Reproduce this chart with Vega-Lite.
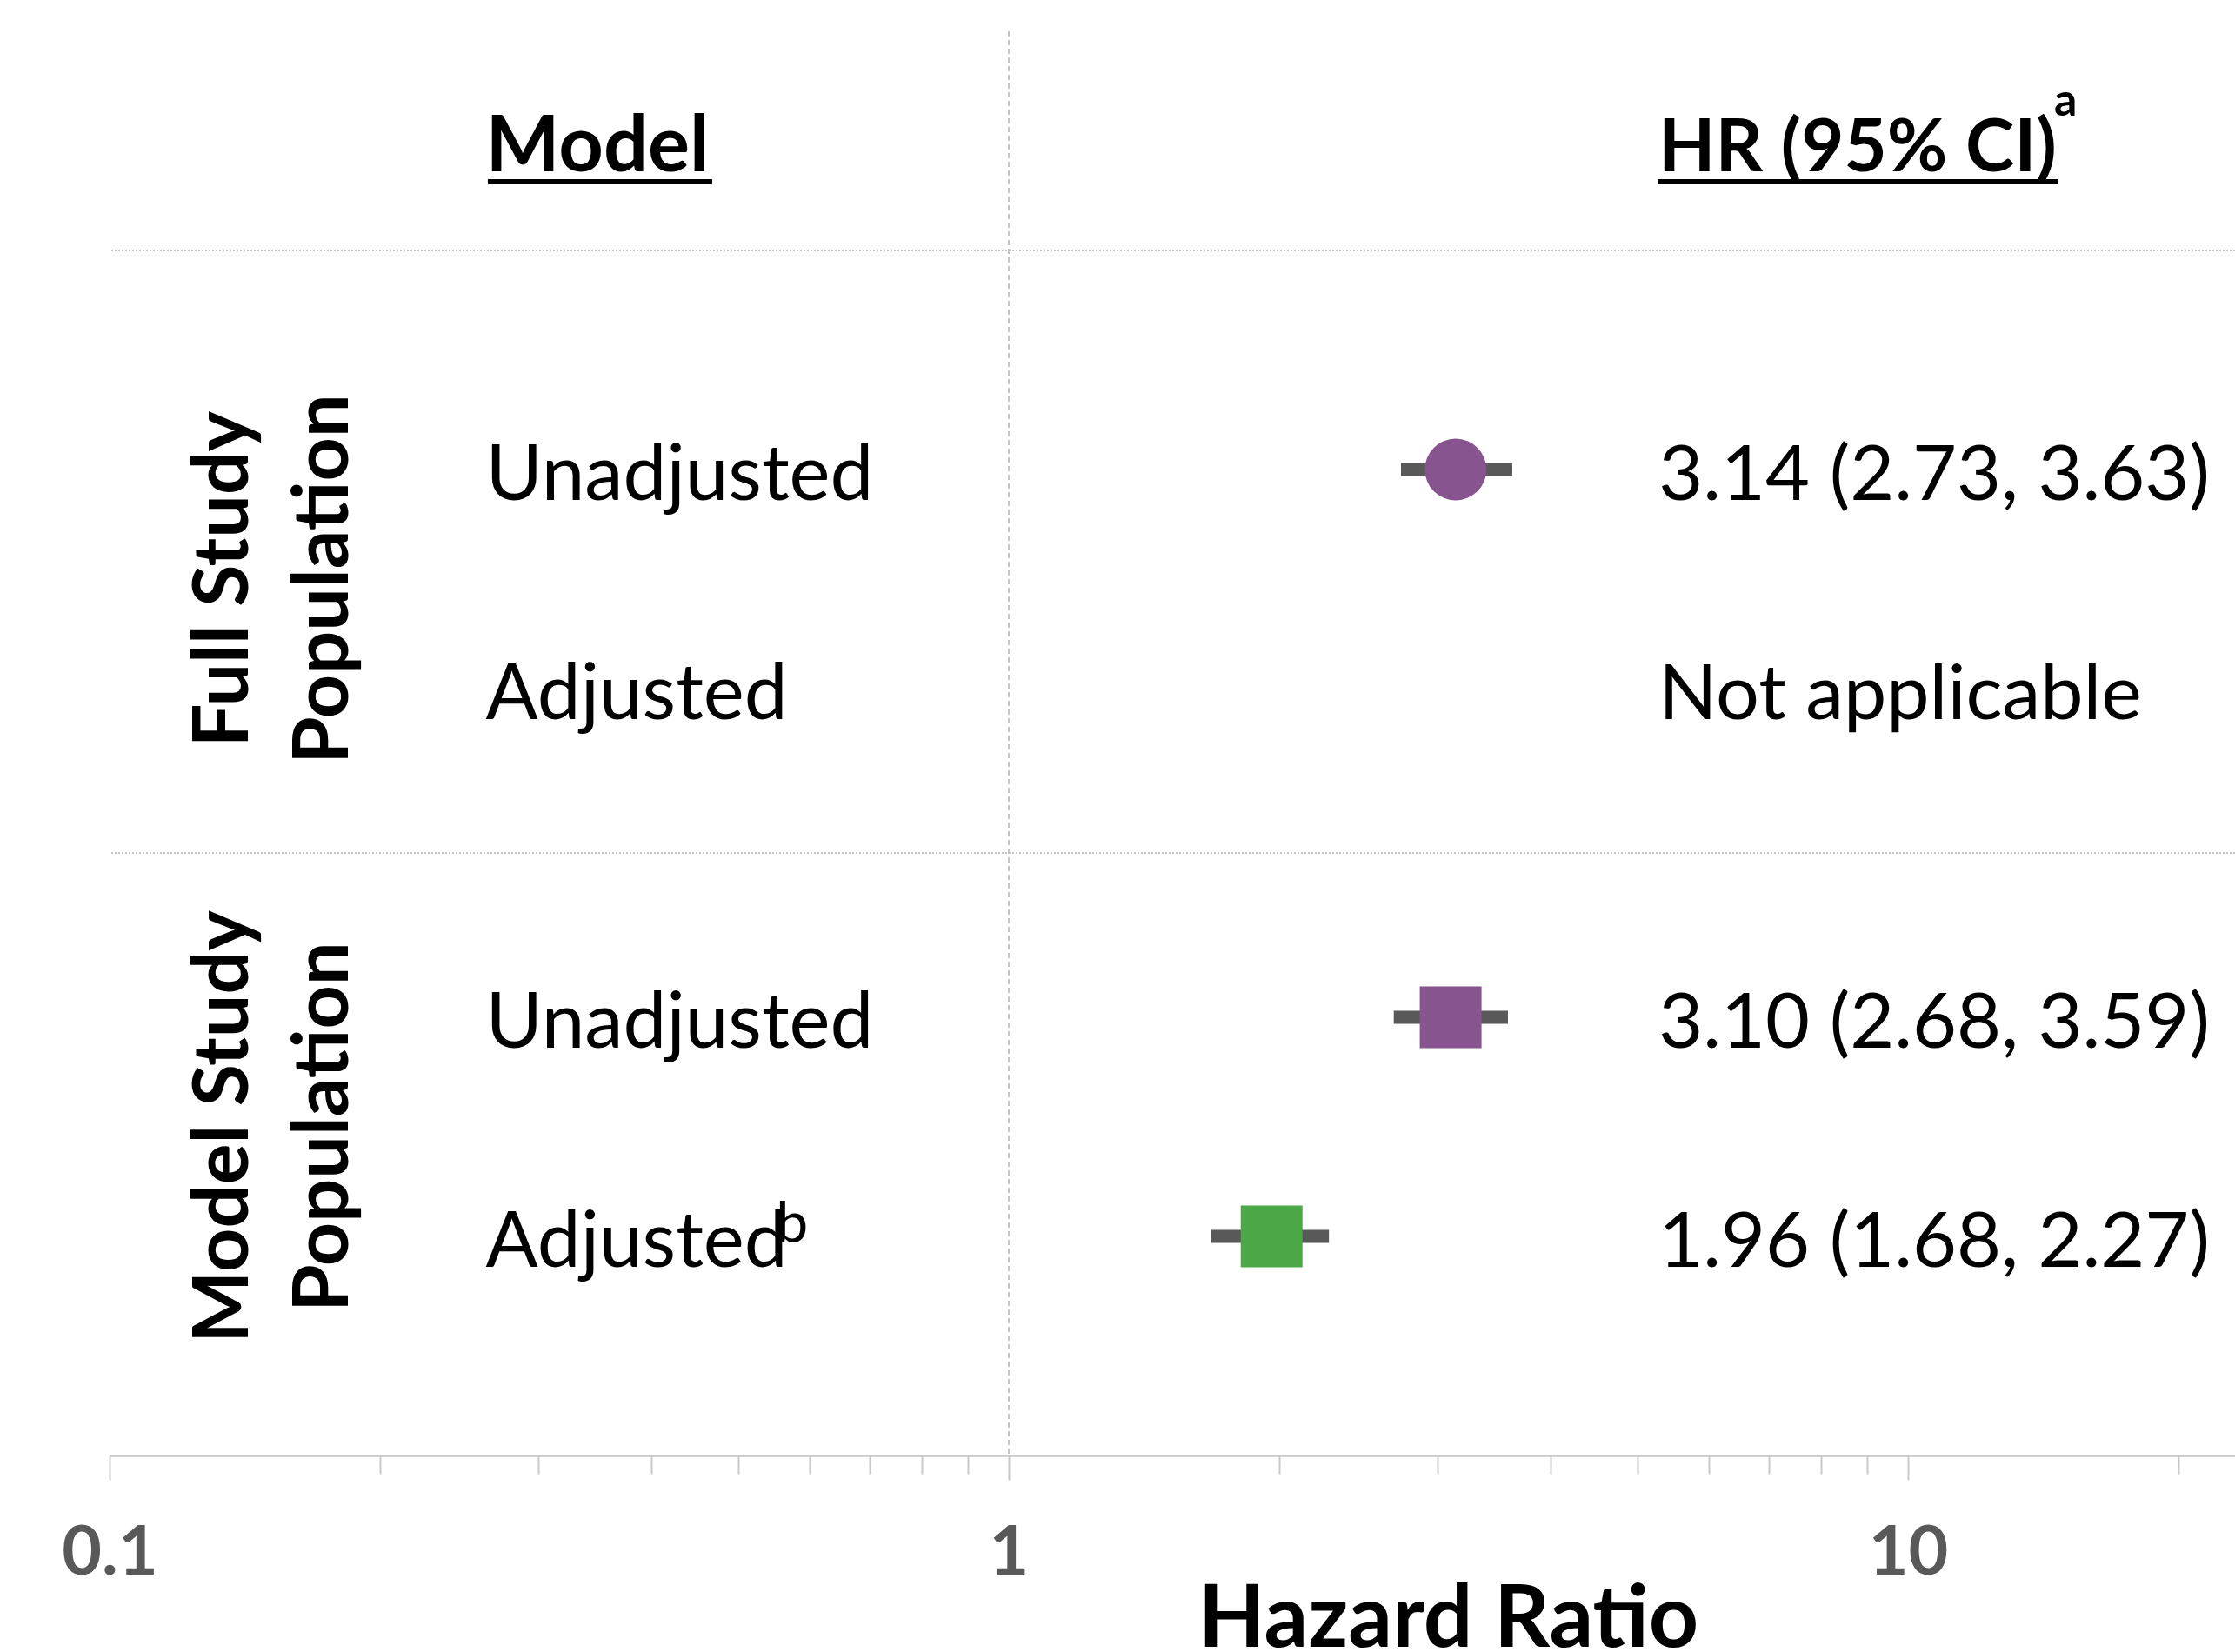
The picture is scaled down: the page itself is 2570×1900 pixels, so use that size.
{
  "$schema": "https://vega.github.io/schema/vega-lite/v6.json",
  "width": 2444,
  "height": 1638,
  "autosize": {"type": "none"},
  "padding": {"left": 126, "top": 36, "right": 0, "bottom": 226},
  "background": "white",
  "config": {"view": {"stroke": null}, "font": "Lato"},
  "datasets": {
    "rows": [
      {"pop": "Full Study Population", "model": "Unadjusted", "y": 4.5, "hr": 3.14, "lo": 2.73, "hi": 3.63, "label": "3.14 (2.73, 3.63)", "note": ""},
      {"pop": "Full Study Population", "model": "Adjusted", "y": 3.5, "hr": null, "lo": null, "hi": null, "label": "Not applicable", "note": ""},
      {"pop": "Model Study Population", "model": "Unadjusted", "y": 2, "hr": 3.10, "lo": 2.68, "hi": 3.59, "label": "3.10 (2.68, 3.59)", "note": ""},
      {"pop": "Model Study Population", "model": "Adjusted", "y": 1, "hr": 1.96, "lo": 1.68, "hi": 2.27, "label": "1.96 (1.68, 2.27)", "note": "b"}
    ],
    "groups": [
      {"g": "Full Study\nPopulation", "y": 4},
      {"g": "Model Study\nPopulation", "y": 1.5}
    ],
    "bounds": [{"b": 2.75}, {"b": 5.5}],
    "one": [{}]
  },
  "layer": [
    {
      "data": {"name": "one"},
      "mark": {"type": "rule", "color": "#b4b4b4", "strokeWidth": 1.5, "strokeDash": [6, 4]},
      "encoding": {
        "x": {
          "datum": 1,
          "type": "quantitative",
          "scale": {"type": "log", "domain": [0.1, 23.1], "nice": false},
          "title": "Hazard Ratio",
          "axis": {
            "values": [0.1, 0.2, 0.3, 0.4, 0.5, 0.6, 0.7, 0.8, 0.9, 1, 2, 3, 4, 5, 6, 7, 8, 9, 10, 20],
            "labelExpr": "datum.value == 0.1 ? '0.1' : datum.value == 1 ? '1' : datum.value == 10 ? '10' : ''",
            "tickSize": {"condition": {"test": "datum.value == 0.1 || datum.value == 1 || datum.value == 10", "value": 28}, "value": 21},
            "tickColor": "#c8c8c8",
            "tickWidth": 2,
            "domainColor": "#c8c8c8",
            "domainWidth": 2.5,
            "grid": false,
            "labelFont": "Lato",
            "labelFontWeight": "bold",
            "labelFontSize": 79,
            "labelColor": "#595959",
            "labelPadding": 46,
            "labelFlush": false,
            "labelOverlap": false,
            "titleFont": "Lato",
            "titleFontWeight": "bold",
            "titleFontSize": 100,
            "titleColor": "black",
            "titleX": 1539,
            "titleY": 219,
            "titleAlign": "center",
            "titleBaseline": "alphabetic",
            "titleAnchor": null
          }
        }
      }
    },
    {
      "data": {"name": "bounds"},
      "mark": {"type": "rule", "color": "#c4c4c4", "strokeWidth": 2, "strokeDash": [2, 2]},
      "encoding": {
        "y": {"field": "b", "type": "quantitative", "scale": {"domain": [0, 6.5], "nice": false, "zero": false}, "axis": null}
      }
    },
    {
      "data": {"name": "rows"},
      "transform": [{"filter": "isValid(datum.lo)"}],
      "mark": {"type": "rule", "color": "#595959", "strokeWidth": 15, "strokeCap": "butt"},
      "encoding": {
        "x": {"field": "lo", "type": "quantitative", "title": "Hazard Ratio", "scale": {"type": "log", "domain": [0.1, 23.1], "nice": false}},
        "x2": {"field": "hi"},
        "y": {"field": "y", "type": "quantitative", "scale": {"domain": [0, 6.5], "nice": false, "zero": false}, "axis": null}
      }
    },
    {
      "data": {"name": "rows"},
      "transform": [{"filter": "isValid(datum.hr)"}],
      "mark": {"type": "point", "filled": true, "opacity": 1, "size": 5041, "strokeWidth": 0},
      "encoding": {
        "x": {"field": "hr", "type": "quantitative", "title": "Hazard Ratio", "scale": {"type": "log", "domain": [0.1, 23.1], "nice": false}},
        "y": {"field": "y", "type": "quantitative", "scale": {"domain": [0, 6.5], "nice": false, "zero": false}, "axis": null},
        "shape": {"field": "pop", "type": "nominal", "scale": {"domain": ["Full Study Population", "Model Study Population"], "range": ["circle", "square"]}, "legend": null},
        "color": {"field": "model", "type": "nominal", "scale": {"domain": ["Unadjusted", "Adjusted"], "range": ["#87548f", "#4aa846"]}, "legend": null}
      }
    },
    {
      "data": {"name": "rows"},
      "mark": {"type": "text", "align": "left", "baseline": "alphabetic", "dy": 35, "fontSize": 89, "font": "Lato", "color": "black"},
      "encoding": {
        "x": {"datum": 0.262, "type": "quantitative", "scale": {"type": "log", "domain": [0.1, 23.1], "nice": false}},
        "y": {"field": "y", "type": "quantitative", "scale": {"domain": [0, 6.5], "nice": false, "zero": false}, "axis": null},
        "text": {"field": "model", "type": "nominal"}
      }
    },
    {
      "data": {"name": "rows"},
      "mark": {"type": "text", "align": "left", "baseline": "alphabetic", "dy": 7, "fontSize": 66, "font": "Lato", "color": "black"},
      "encoding": {
        "x": {"datum": 0.551, "type": "quantitative", "scale": {"type": "log", "domain": [0.1, 23.1], "nice": false}},
        "y": {"field": "y", "type": "quantitative", "scale": {"domain": [0, 6.5], "nice": false, "zero": false}, "axis": null},
        "text": {"field": "note", "type": "nominal"}
      }
    },
    {
      "data": {"name": "rows"},
      "mark": {"type": "text", "align": "left", "baseline": "alphabetic", "dy": 35, "fontSize": 88, "font": "Lato", "color": "black"},
      "encoding": {
        "x": {"datum": 5.28, "type": "quantitative", "scale": {"type": "log", "domain": [0.1, 23.1], "nice": false}},
        "y": {"field": "y", "type": "quantitative", "scale": {"domain": [0, 6.5], "nice": false, "zero": false}, "axis": null},
        "text": {"field": "label", "type": "nominal"}
      }
    },
    {
      "data": {"name": "groups"},
      "mark": {"type": "text", "align": "center", "baseline": "alphabetic", "angle": 270, "fontSize": 88, "fontWeight": "bold", "font": "Lato", "color": "black", "lineBreak": "\n", "lineHeight": 115},
      "encoding": {
        "x": {"datum": 0.1425, "type": "quantitative", "scale": {"type": "log", "domain": [0.1, 23.1], "nice": false}},
        "y": {"field": "y", "type": "quantitative", "scale": {"domain": [0, 6.5], "nice": false, "zero": false}, "axis": null},
        "text": {"field": "g", "type": "nominal"}
      }
    },
    {
      "data": {"name": "one"},
      "mark": {"type": "text", "align": "left", "baseline": "alphabetic", "dy": 35, "fontSize": 90, "fontWeight": "bold", "font": "Lato", "color": "black", "text": "Model"},
      "encoding": {
        "x": {"datum": 0.262, "type": "quantitative", "scale": {"type": "log", "domain": [0.1, 23.1], "nice": false}},
        "y": {"datum": 6, "type": "quantitative", "scale": {"domain": [0, 6.5], "nice": false, "zero": false}, "axis": null}
      }
    },
    {
      "data": {"name": "one"},
      "mark": {"type": "text", "align": "left", "baseline": "alphabetic", "dy": 35, "fontSize": 85, "fontWeight": "bold", "font": "Lato", "color": "black", "text": "HR (95% CI)"},
      "encoding": {
        "x": {"datum": 5.278, "type": "quantitative", "scale": {"type": "log", "domain": [0.1, 23.1], "nice": false}},
        "y": {"datum": 6, "type": "quantitative", "scale": {"domain": [0, 6.5], "nice": false, "zero": false}, "axis": null}
      }
    },
    {
      "data": {"name": "one"},
      "mark": {"type": "text", "align": "left", "baseline": "alphabetic", "dy": -29, "fontSize": 52, "fontWeight": "bold", "font": "Lato", "color": "black", "text": "a"},
      "encoding": {
        "x": {"datum": 14.54, "type": "quantitative", "scale": {"type": "log", "domain": [0.1, 23.1], "nice": false}},
        "y": {"datum": 6, "type": "quantitative", "scale": {"domain": [0, 6.5], "nice": false, "zero": false}, "axis": null}
      }
    },
    {
      "data": {"name": "one"},
      "mark": {"type": "rule", "color": "black", "strokeWidth": 6, "strokeCap": "butt"},
      "encoding": {
        "x": {"datum": 0.2634, "type": "quantitative", "scale": {"type": "log", "domain": [0.1, 23.1], "nice": false}},
        "x2": {"datum": 0.468},
        "y": {"datum": 5.8135, "type": "quantitative", "scale": {"domain": [0, 6.5], "nice": false, "zero": false}, "axis": null}
      }
    },
    {
      "data": {"name": "one"},
      "mark": {"type": "rule", "color": "black", "strokeWidth": 6, "strokeCap": "butt"},
      "encoding": {
        "x": {"datum": 5.267, "type": "quantitative", "scale": {"type": "log", "domain": [0.1, 23.1], "nice": false}},
        "x2": {"datum": 14.7},
        "y": {"datum": 5.8135, "type": "quantitative", "scale": {"domain": [0, 6.5], "nice": false, "zero": false}, "axis": null}
      }
    }
  ]
}
